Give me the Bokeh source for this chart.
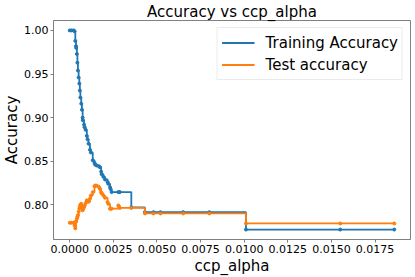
from bokeh.plotting import figure
from bokeh.models import FixedTicker, PrintfTickFormatter, Range1d, Legend, LegendItem
from bokeh.embed import file_html
from bokeh.resources import INLINE

# ---- data ----
ccp_alpha = [0.0, 0.00011, 0.00023, 0.00028, 0.00032, 0.00036, 0.00037, 0.00041,
             0.00044, 0.00047, 0.00051, 0.00055, 0.00058, 0.00061, 0.00066, 0.00070,
             0.00074, 0.00075, 0.00082, 0.00085, 0.00091, 0.00098, 0.00102, 0.00108,
             0.00116, 0.00121, 0.00132, 0.00142, 0.00146, 0.00155, 0.00168, 0.00174,
             0.00180, 0.00183, 0.00193, 0.00202, 0.00217, 0.00221, 0.00231, 0.00234,
             0.00240, 0.00278, 0.00287, 0.00353, 0.00431, 0.00480, 0.00520, 0.00650,
             0.00800, 0.01010, 0.01550, 0.01860]
train_acc = [1.000, 1.000, 1.000, 0.999, 0.988, 0.982, 0.980, 0.973,
             0.963, 0.954, 0.946, 0.939, 0.931, 0.923, 0.916, 0.909,
             0.900, 0.897, 0.892, 0.889, 0.886, 0.879, 0.875, 0.870,
             0.863, 0.860, 0.851, 0.848, 0.846, 0.845, 0.844, 0.843,
             0.838, 0.835, 0.832, 0.829, 0.826, 0.824, 0.820, 0.818,
             0.8145, 0.8145, 0.8145, 0.797, 0.7915, 0.7915, 0.7915, 0.7915,
             0.7915, 0.7715, 0.7715, 0.7715]
test_acc = [0.7793, 0.7793, 0.7793, 0.776, 0.7729, 0.7808, 0.781, 0.784,
            0.786, 0.788, 0.792, 0.7955, 0.798, 0.800, 0.801, 0.797,
            0.7936, 0.795, 0.797, 0.799, 0.802, 0.805, 0.804, 0.8034,
            0.807, 0.8105, 0.8144, 0.8212, 0.822, 0.8218, 0.820, 0.818,
            0.8144, 0.813, 0.8105, 0.808, 0.803, 0.801, 0.7955, 0.7955,
            0.7955, 0.7992, 0.7963, 0.7963, 0.790, 0.790, 0.790, 0.790,
            0.790, 0.7785, 0.7785, 0.7785]
x_ticks = [0.0, 0.0025, 0.005, 0.0075, 0.01, 0.0125, 0.015, 0.0175]
y_ticks = [0.80, 0.85, 0.90, 0.95, 1.00]

BLUE = "#1f77b4"
ORANGE = "#ff7f0e"
FONT = "DejaVu Sans"

p = figure(width=415, height=277, output_backend="svg", toolbar_location=None,
           x_range=Range1d(-0.00093, 0.01953), y_range=Range1d(0.7601, 1.0114),
           min_border_left=49, min_border_right=5, min_border_top=19,
           min_border_bottom=36, title="Accuracy vs ccp_alpha")

p.title.align = "center"
p.title.text_font = FONT
p.title.text_font_size = "15px"
p.title.text_font_style = "normal"
p.title.text_color = "black"
p.title.standoff = 0
p.title.offset = 0

p.grid.visible = False
p.outline_line_color = "#808080"
p.background_fill_color = "white"
p.border_fill_color = "white"

for ax in (p.xaxis[0], p.yaxis[0]):
    ax.axis_line_color = "#808080"
    ax.major_tick_line_color = "#808080"
    ax.major_tick_out = 3
    ax.major_tick_in = 0
    ax.minor_tick_line_color = None
    ax.major_label_text_font = FONT
    ax.major_label_text_font_size = "11px"
    ax.major_label_text_color = "black"
    ax.axis_label_text_font = FONT
    ax.axis_label_text_font_size = "15px"
    ax.axis_label_text_font_style = "normal"
    ax.axis_label_text_color = "black"

p.xaxis.ticker = FixedTicker(ticks=x_ticks)
p.yaxis.ticker = FixedTicker(ticks=y_ticks)
p.xaxis.formatter = PrintfTickFormatter(format="%.4f")
p.yaxis.formatter = PrintfTickFormatter(format="%.2f")
p.xaxis.axis_label = "ccp_alpha"
p.yaxis.axis_label = "Accuracy"
p.xaxis.major_label_standoff = 2
p.yaxis.major_label_standoff = 2
p.xaxis.axis_label_standoff = 1
p.yaxis.axis_label_standoff = 0

r1 = p.step(ccp_alpha, train_acc, mode="after", line_color=BLUE, line_width=1.8)
p.scatter(ccp_alpha, train_acc, size=3, color=BLUE)
r2 = p.step(ccp_alpha, test_acc, mode="after", line_color=ORANGE, line_width=1.8)
p.scatter(ccp_alpha, test_acc, size=3, color=ORANGE)

legend = Legend(items=[LegendItem(label="Training Accuracy", renderers=[r1]),
                       LegendItem(label="Test accuracy", renderers=[r2])],
                location="top_right")
legend.label_text_font = FONT
legend.label_text_font_size = "15px"
legend.label_text_color = "black"
legend.label_standoff = 11
legend.glyph_width = 33
legend.glyph_height = 21
legend.label_height = 21
legend.spacing = 1
legend.padding = 4
legend.margin = 7
legend.border_line_color = "#d8d8d8"
legend.border_line_width = 1
legend.background_fill_alpha = 0.8
p.add_layout(legend)

open("out.html", "w").write(file_html(p, INLINE))
